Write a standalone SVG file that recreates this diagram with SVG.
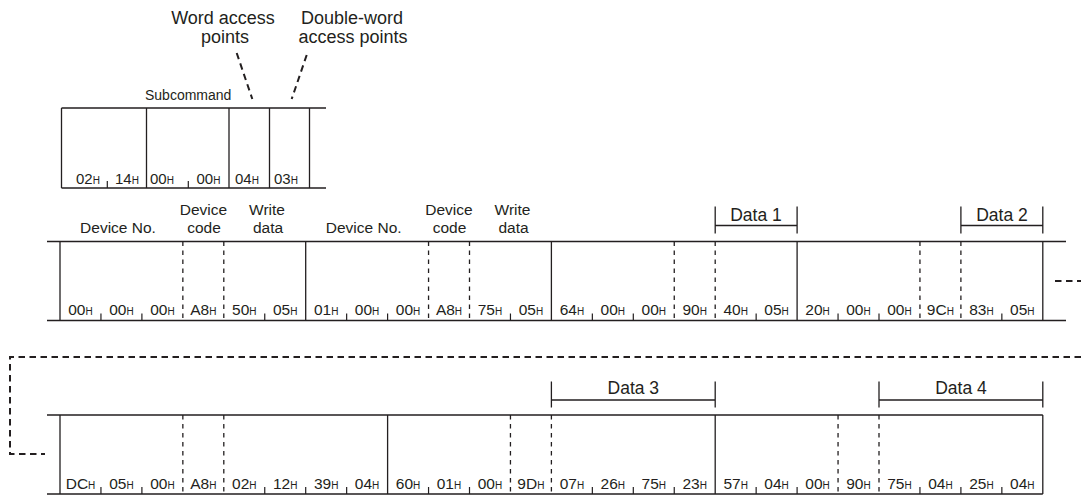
<svg xmlns="http://www.w3.org/2000/svg" width="1081" height="496" viewBox="0 0 1081 496">
<style>
text{font-family:"Liberation Sans",Arial,sans-serif;fill:#231f20}
.lbl{font-size:15.5px;text-anchor:middle}
.top{font-size:18px;text-anchor:middle}
.data{font-size:17.5px;text-anchor:middle}
.sub{font-size:14px}
.b{font-size:15.5px;text-anchor:middle}
.h{font-size:10px}
.s{stroke:#231f20;stroke-width:1.3;fill:none}
.d{stroke:#231f20;stroke-width:1.3;fill:none;stroke-dasharray:4.5 4.5}
.t{stroke:#231f20;stroke-width:1.2;fill:none}
.c{stroke:#231f20;stroke-width:2;fill:none;stroke-dasharray:6.5 4.5}
</style>
<defs>
<path id="tick" d="M0,0 v-7" class="t"/>
</defs>

<g id="labels-top">
<text class="top" x="223" y="23.5">Word access</text>
<text class="top" x="225" y="43">points</text>
<text class="top" x="352" y="23.5">Double-word</text>
<text class="top" x="353" y="43">access points</text>
</g>

<g id="subcommand">
<text class="sub" x="145" y="100">Subcommand</text>
<path class="s" d="M61.5,108H326M61.5,188H326M61.5,108V188M146.5,108V188M229,108V188M269.5,108V188M309.5,108V188"/>
<use href="#tick" x="107.3" y="188"/>
<use href="#tick" x="188.3" y="188"/>
<text class="sub" y="184" style="font-size:15px"><tspan x="76">02</tspan><tspan class="h">H</tspan></text>
<text class="sub" y="184" style="font-size:15px"><tspan x="115">14</tspan><tspan class="h">H</tspan></text>
<text class="sub" y="184" style="font-size:15px"><tspan x="150">00</tspan><tspan class="h">H</tspan></text>
<text class="sub" y="184" style="font-size:15px"><tspan x="196.5">00</tspan><tspan class="h">H</tspan></text>
<text class="sub" y="184" style="font-size:15px"><tspan x="235">04</tspan><tspan class="h">H</tspan></text>
<text class="sub" y="184" style="font-size:15px"><tspan x="274">03</tspan><tspan class="h">H</tspan></text>
</g>

<g id="row1">
<text class="lbl" x="118" y="233.3">Device No.</text>
<text class="lbl" x="203.5" y="215">Device</text>
<text class="lbl" x="204" y="233.3">code</text>
<text class="lbl" x="267" y="215">Write</text>
<text class="lbl" x="268" y="233.3">data</text>
<text class="lbl" x="363.7" y="233.3">Device No.</text>
<text class="lbl" x="449" y="215">Device</text>
<text class="lbl" x="449.5" y="233.3">code</text>
<text class="lbl" x="512.5" y="215">Write</text>
<text class="lbl" x="513.5" y="233.3">data</text>
<path class="s" d="M715.2,206.5V233.5M797.1,206.5V233.5M715.2,225.5H797.1"/>
<text class="data" x="756" y="220.5">Data 1</text>
<path class="s" d="M960.9,206.5V233.5M1042.8,206.5V233.5M960.9,225.5H1042.8"/>
<text class="data" x="1002" y="220.5">Data 2</text>
<path class="s" d="M47,241.5H1066M47,320.5H1066M60,241.5V320.5M305.7,241.5V320.5M551.4,241.5V320.5M797.1,241.5V320.5M1042.8,241.5V320.5"/>
<path class="d" d="M182.85,241.5V320.5M223.8,241.5V320.5M428.55,241.5V320.5M469.5,241.5V320.5M674.25,241.5V320.5M715.2,241.5V320.5M919.95,241.5V320.5M960.9,241.5V320.5"/>
<use href="#tick" x="100.95" y="320.5"/><use href="#tick" x="141.9" y="320.5"/><use href="#tick" x="264.75" y="320.5"/>
<use href="#tick" x="346.65" y="320.5"/><use href="#tick" x="387.6" y="320.5"/><use href="#tick" x="510.45" y="320.5"/>
<use href="#tick" x="592.35" y="320.5"/><use href="#tick" x="633.3" y="320.5"/><use href="#tick" x="756.15" y="320.5"/>
<use href="#tick" x="838.05" y="320.5"/><use href="#tick" x="879" y="320.5"/><use href="#tick" x="1001.85" y="320.5"/>
<g class="b">
<text x="80.5" y="314.5">00<tspan class="h">H</tspan></text>
<text x="121.4" y="314.5">00<tspan class="h">H</tspan></text>
<text x="162.4" y="314.5">00<tspan class="h">H</tspan></text>
<text x="203.3" y="314.5">A8<tspan class="h">H</tspan></text>
<text x="244.3" y="314.5">50<tspan class="h">H</tspan></text>
<text x="285.2" y="314.5">05<tspan class="h">H</tspan></text>
<text x="326.2" y="314.5">01<tspan class="h">H</tspan></text>
<text x="367.1" y="314.5">00<tspan class="h">H</tspan></text>
<text x="408.1" y="314.5">00<tspan class="h">H</tspan></text>
<text x="449" y="314.5">A8<tspan class="h">H</tspan></text>
<text x="490" y="314.5">75<tspan class="h">H</tspan></text>
<text x="530.9" y="314.5">05<tspan class="h">H</tspan></text>
<text x="571.9" y="314.5">64<tspan class="h">H</tspan></text>
<text x="612.8" y="314.5">00<tspan class="h">H</tspan></text>
<text x="653.8" y="314.5">00<tspan class="h">H</tspan></text>
<text x="694.7" y="314.5">90<tspan class="h">H</tspan></text>
<text x="735.7" y="314.5">40<tspan class="h">H</tspan></text>
<text x="776.6" y="314.5">05<tspan class="h">H</tspan></text>
<text x="817.6" y="314.5">20<tspan class="h">H</tspan></text>
<text x="858.5" y="314.5">00<tspan class="h">H</tspan></text>
<text x="899.5" y="314.5">00<tspan class="h">H</tspan></text>
<text x="940.4" y="314.5">9C<tspan class="h">H</tspan></text>
<text x="981.4" y="314.5">83<tspan class="h">H</tspan></text>
<text x="1022.3" y="314.5">05<tspan class="h">H</tspan></text>
</g>
</g>

<g id="row2">
<path class="s" d="M551.4,381.5V407.5M715.2,381.5V407.5M551.4,400H715.2"/>
<text class="data" x="633.3" y="394">Data 3</text>
<path class="s" d="M879,381.5V407.5M1042.8,381.5V407.5M879,400H1042.8"/>
<text class="data" x="961" y="394">Data 4</text>
<path class="s" d="M47,415H1042.8M47,494H1042.8M60,415V494M387.6,415V494M715.2,415V494M1042.8,415V494"/>
<path class="d" d="M182.85,415V494M223.8,415V494M510.45,415V494M551.4,415V494M838.05,415V494M879,415V494"/>
<use href="#tick" x="100.95" y="494"/><use href="#tick" x="141.9" y="494"/><use href="#tick" x="264.75" y="494"/>
<use href="#tick" x="305.7" y="494"/><use href="#tick" x="346.65" y="494"/><use href="#tick" x="428.55" y="494"/>
<use href="#tick" x="469.5" y="494"/><use href="#tick" x="592.35" y="494"/><use href="#tick" x="633.3" y="494"/>
<use href="#tick" x="674.25" y="494"/><use href="#tick" x="756.15" y="494"/><use href="#tick" x="797.1" y="494"/>
<use href="#tick" x="919.95" y="494"/><use href="#tick" x="960.9" y="494"/><use href="#tick" x="1001.85" y="494"/>
<g class="b">
<text x="80.5" y="488.5">DC<tspan class="h">H</tspan></text>
<text x="121.4" y="488.5">05<tspan class="h">H</tspan></text>
<text x="162.4" y="488.5">00<tspan class="h">H</tspan></text>
<text x="203.3" y="488.5">A8<tspan class="h">H</tspan></text>
<text x="244.3" y="488.5">02<tspan class="h">H</tspan></text>
<text x="285.2" y="488.5">12<tspan class="h">H</tspan></text>
<text x="326.2" y="488.5">39<tspan class="h">H</tspan></text>
<text x="367.1" y="488.5">04<tspan class="h">H</tspan></text>
<text x="408.1" y="488.5">60<tspan class="h">H</tspan></text>
<text x="449" y="488.5">01<tspan class="h">H</tspan></text>
<text x="490" y="488.5">00<tspan class="h">H</tspan></text>
<text x="530.9" y="488.5">9D<tspan class="h">H</tspan></text>
<text x="571.9" y="488.5">07<tspan class="h">H</tspan></text>
<text x="612.8" y="488.5">26<tspan class="h">H</tspan></text>
<text x="653.8" y="488.5">75<tspan class="h">H</tspan></text>
<text x="694.7" y="488.5">23<tspan class="h">H</tspan></text>
<text x="735.7" y="488.5">57<tspan class="h">H</tspan></text>
<text x="776.6" y="488.5">04<tspan class="h">H</tspan></text>
<text x="817.6" y="488.5">00<tspan class="h">H</tspan></text>
<text x="858.5" y="488.5">90<tspan class="h">H</tspan></text>
<text x="899.5" y="488.5">75<tspan class="h">H</tspan></text>
<text x="940.4" y="488.5">04<tspan class="h">H</tspan></text>
<text x="981.4" y="488.5">25<tspan class="h">H</tspan></text>
<text x="1022.3" y="488.5">04<tspan class="h">H</tspan></text>
</g>
</g>

<g id="connectors">
<path class="c" d="M236.7,53L252.3,99"/>
<path class="c" d="M306.7,55L291.7,99"/>
<path class="c" d="M1055,281H1081"/>
<path class="c" d="M1081,357H10V454H45"/>
</g>
</svg>
